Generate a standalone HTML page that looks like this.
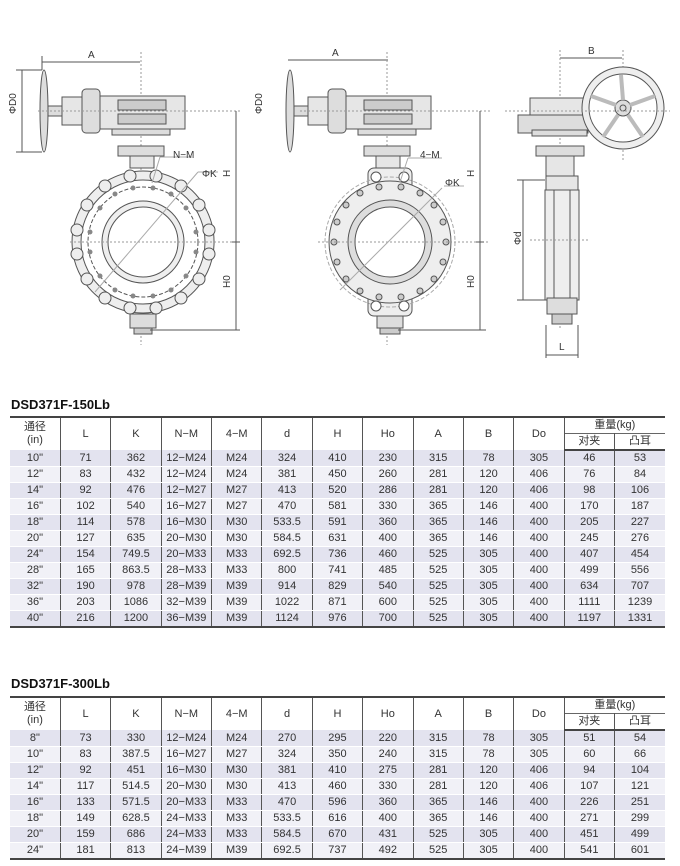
<!DOCTYPE html>
<html><head><meta charset="utf-8"><style>
body{margin:0;width:680px;height:866px;background:#fff;position:relative;overflow:hidden;font-family:"Liberation Sans","Noto Sans CJK SC",sans-serif;color:#333}
.t{position:absolute;font-weight:bold;font-size:13px;color:#111;left:11px}
table{position:absolute;left:10px;width:655px;border-collapse:collapse;table-layout:fixed;font-size:11px}
td{text-align:center;padding:0;border-left:1.5px solid #555;border-right:1.5px solid #555;height:15px;line-height:15px;border-bottom:1px solid #fff}
tr.h td{background:#fff;border-bottom:none;line-height:13px}
table{border-top:2px solid #444;border-bottom:2px solid #444}
tr.hb td{border-bottom:2px solid #444}
tbody tr.r:nth-child(odd) td{background:#e3e3ef}
tbody tr.r:nth-child(even) td{background:#f1f1f7}
td.f{border-left:none}td.l{border-right:none}
.sub{border-top:1px solid #666}
svg{position:absolute;left:0;top:0}
</style></head><body>
<svg width="680" height="380" viewBox="0 0 680 380" fill="none" stroke="#555" stroke-width="1" font-family="Liberation Sans" font-size="10">
<!-- Drawing 1 -->
<g>
<line x1="42" y1="62" x2="140" y2="62"/><text x="88" y="58" fill="#333" stroke="none">A</text>
<line x1="42" y1="56" x2="42" y2="70"/><line x1="141" y1="52" x2="141" y2="345" stroke-dasharray="2,2" stroke="#999"/>
<line x1="22" y1="70" x2="22" y2="152"/><text x="16" y="114" fill="#333" stroke="none" transform="rotate(-90 16 114)">ΦD0</text>
<line x1="16" y1="70" x2="42" y2="70"/><line x1="16" y1="152" x2="42" y2="152"/>
<ellipse cx="44" cy="111" rx="4" ry="41" fill="#ddd"/>
<rect x="48" y="106" width="14" height="10" fill="#ddd"/>
<rect x="62" y="97" width="20" height="28" fill="#e6e6e6"/>
<rect x="82" y="89" width="18" height="44" rx="4" fill="#ddd"/>
<rect x="100" y="96" width="85" height="33" fill="#e6e6e6"/>
<rect x="118" y="100" width="48" height="10" fill="#ccc"/><rect x="118" y="114" width="48" height="10" fill="#ccc"/>
<rect x="112" y="129" width="58" height="6" fill="#ddd"/>
<rect x="118" y="146" width="46" height="10" fill="#ddd"/>
<rect x="130" y="156" width="24" height="12" fill="#e6e6e6"/>
<line x1="38" y1="111" x2="240" y2="111" stroke-dasharray="2,2" stroke="#999"/>
<path d="M143 171 a71 71 0 1 0 0.1 0 Z" fill="#eee"/>
<g fill="#fff" stroke="#555">
<circle cx="143" cy="242" r="62"/>
</g>
<circle cx="143" cy="242" r="55" stroke-dasharray="4,2"/>
<circle cx="143" cy="242" r="41" fill="#eee"/><circle cx="143" cy="242" r="35" fill="#fff"/>
<g fill="#eee">
<circle cx="130" cy="176" r="6"/><circle cx="156" cy="176" r="6"/><circle cx="181" cy="186" r="6"/><circle cx="199" cy="205" r="6"/><circle cx="209" cy="230" r="6"/><circle cx="209" cy="254" r="6"/><circle cx="199" cy="279" r="6"/><circle cx="181" cy="298" r="6"/><circle cx="156" cy="308" r="6"/><circle cx="130" cy="308" r="6"/><circle cx="105" cy="298" r="6"/><circle cx="87" cy="279" r="6"/><circle cx="77" cy="254" r="6"/><circle cx="77" cy="230" r="6"/><circle cx="87" cy="205" r="6"/><circle cx="105" cy="186" r="6"/>
</g>
<g fill="#888" stroke="none">
<circle cx="153" cy="188" r="2.5"/><circle cx="133" cy="188" r="2.5"/><circle cx="171" cy="194" r="2.5"/><circle cx="115" cy="194" r="2.5"/><circle cx="186" cy="208" r="2.5"/><circle cx="100" cy="208" r="2.5"/><circle cx="196" cy="232" r="2.5"/><circle cx="90" cy="232" r="2.5"/><circle cx="196" cy="252" r="2.5"/><circle cx="90" cy="252" r="2.5"/><circle cx="186" cy="276" r="2.5"/><circle cx="100" cy="276" r="2.5"/><circle cx="171" cy="290" r="2.5"/><circle cx="115" cy="290" r="2.5"/><circle cx="153" cy="296" r="2.5"/><circle cx="133" cy="296" r="2.5"/>
</g>
<rect x="130" y="314" width="26" height="14" fill="#ddd"/><rect x="134" y="328" width="18" height="6" fill="#ccc"/>
<line x1="70" y1="242" x2="238" y2="242" stroke-dasharray="2,2" stroke="#999"/>
<line x1="95" y1="292" x2="198" y2="172" stroke="#aaa"/><line x1="198" y1="172" x2="218" y2="172" stroke="#aaa"/>
<text x="202" y="177" fill="#333" stroke="none">ΦK</text>
<line x1="160" y1="157" x2="192" y2="157" stroke="#aaa"/><line x1="160" y1="157" x2="152" y2="183" stroke="#aaa"/>
<text x="173" y="158" fill="#333" stroke="none">N−M</text>
<line x1="236" y1="111" x2="236" y2="330"/><line x1="232" y1="242" x2="240" y2="242"/>
<text x="230" y="177" fill="#333" stroke="none" transform="rotate(-90 230 177)">H</text>
<text x="230" y="288" fill="#333" stroke="none" transform="rotate(-90 230 288)">H0</text>
<line x1="150" y1="330" x2="240" y2="330"/>
</g>
<!-- Drawing 2 -->
<g>
<line x1="288" y1="60" x2="388" y2="60"/><text x="332" y="56" fill="#333" stroke="none">A</text>
<line x1="387" y1="52" x2="387" y2="345" stroke-dasharray="2,2" stroke="#999"/>
<text x="262" y="114" fill="#333" stroke="none" transform="rotate(-90 262 114)">ΦD0</text>
<ellipse cx="290" cy="111" rx="4" ry="41" fill="#ddd"/>
<rect x="294" y="106" width="14" height="10" fill="#ddd"/>
<rect x="308" y="97" width="20" height="28" fill="#e6e6e6"/>
<rect x="328" y="89" width="18" height="44" rx="4" fill="#ddd"/>
<rect x="346" y="96" width="85" height="33" fill="#e6e6e6"/>
<rect x="364" y="100" width="48" height="10" fill="#ccc"/><rect x="364" y="114" width="48" height="10" fill="#ccc"/>
<rect x="358" y="129" width="58" height="6" fill="#ddd"/>
<rect x="364" y="146" width="46" height="10" fill="#ddd"/>
<rect x="376" y="156" width="24" height="18" fill="#e6e6e6"/>
<line x1="300" y1="111" x2="490" y2="111" stroke-dasharray="2,2" stroke="#999"/>
<rect x="368" y="168" width="44" height="22" rx="6" fill="#eee"/>
<rect x="368" y="294" width="44" height="22" rx="6" fill="#eee"/>
<circle cx="390" cy="242" r="61" fill="#eee"/>
<circle cx="390" cy="242" r="65" stroke-dasharray="4,2" stroke="#aaa"/>
<circle cx="390" cy="242" r="42" fill="#ddd"/><circle cx="390" cy="242" r="35" fill="#fff"/>
<g fill="#fff"><circle cx="376" cy="177" r="5"/><circle cx="404" cy="177" r="5"/><circle cx="376" cy="306" r="5"/><circle cx="404" cy="306" r="5"/></g>
<g fill="#ccc">
<circle cx="379" cy="187" r="3"/><circle cx="401" cy="187" r="3"/><circle cx="420" cy="193" r="3"/><circle cx="360" cy="193" r="3"/><circle cx="434" cy="205" r="3"/><circle cx="346" cy="205" r="3"/><circle cx="443" cy="222" r="3"/><circle cx="337" cy="222" r="3"/><circle cx="446" cy="242" r="3"/><circle cx="334" cy="242" r="3"/><circle cx="443" cy="262" r="3"/><circle cx="337" cy="262" r="3"/><circle cx="434" cy="279" r="3"/><circle cx="346" cy="279" r="3"/><circle cx="420" cy="291" r="3"/><circle cx="360" cy="291" r="3"/><circle cx="401" cy="297" r="3"/><circle cx="379" cy="297" r="3"/>
</g>
<rect x="377" y="316" width="26" height="12" fill="#ddd"/><rect x="380" y="328" width="20" height="6" fill="#ccc"/>
<line x1="318" y1="242" x2="488" y2="242" stroke-dasharray="2,2" stroke="#999"/>
<line x1="340" y1="290" x2="440" y2="190" stroke="#aaa"/><line x1="440" y1="190" x2="442" y2="188" stroke="#aaa"/><line x1="444" y1="186" x2="464" y2="186" stroke="#aaa"/>
<text x="445" y="186" fill="#333" stroke="none">ΦK</text>
<line x1="408" y1="158" x2="442" y2="158" stroke="#aaa"/><line x1="408" y1="158" x2="400" y2="182" stroke="#aaa"/>
<text x="420" y="158" fill="#333" stroke="none">4−M</text>
<line x1="480" y1="111" x2="480" y2="330"/><line x1="476" y1="242" x2="484" y2="242"/>
<text x="474" y="177" fill="#333" stroke="none" transform="rotate(-90 474 177)">H</text>
<text x="474" y="288" fill="#333" stroke="none" transform="rotate(-90 474 288)">H0</text>
<line x1="398" y1="330" x2="486" y2="330"/>
</g>
<!-- Drawing 3 -->
<g>
<line x1="560" y1="58" x2="622" y2="58"/><text x="588" y="54" fill="#333" stroke="none">B</text>
<line x1="560" y1="50" x2="560" y2="330" stroke-dasharray="2,2" stroke="#999"/>
<line x1="623" y1="50" x2="623" y2="160" stroke-dasharray="2,2" stroke="#999"/>
<path d="M530 98 h56 v35 h-56 z" fill="#e6e6e6"/>
<rect x="518" y="115" width="70" height="18" fill="#ddd"/>
<rect x="532" y="130" width="55" height="6" fill="#ddd"/>
<rect x="536" y="146" width="48" height="10" fill="#ddd"/>
<rect x="546" y="156" width="28" height="20" fill="#e6e6e6"/>
<rect x="546" y="176" width="32" height="14" fill="#e6e6e6"/>
<rect x="545" y="190" width="34" height="110" fill="#eee"/>
<line x1="554" y1="190" x2="554" y2="300"/><line x1="570" y1="190" x2="570" y2="300"/>
<rect x="547" y="298" width="30" height="16" fill="#ddd"/><rect x="552" y="314" width="20" height="10" fill="#ccc"/>
<circle cx="623" cy="108" r="41" fill="#eee"/><circle cx="623" cy="108" r="34" fill="#fff"/>
<circle cx="623" cy="108" r="8" fill="#ddd"/><circle cx="623" cy="108" r="3"/>
<g stroke-width="4" stroke="#bbb"><line x1="623" y1="100" x2="621" y2="75"/><line x1="630" y1="105" x2="655" y2="96"/><line x1="628" y1="115" x2="643" y2="137"/><line x1="618" y1="115" x2="603" y2="137"/><line x1="616" y1="105" x2="591" y2="96"/></g>
<line x1="505" y1="111" x2="670" y2="111" stroke-dasharray="2,2" stroke="#999"/>
<line x1="523" y1="180" x2="523" y2="300"/><line x1="517" y1="180" x2="545" y2="180"/><line x1="517" y1="300" x2="545" y2="300"/>
<text x="521" y="245" fill="#333" stroke="none" transform="rotate(-90 521 245)">Φd</text>
<line x1="530" y1="240" x2="590" y2="240" stroke-dasharray="2,2" stroke="#999"/>
<line x1="546" y1="325" x2="546" y2="358"/><line x1="578" y1="325" x2="578" y2="358"/><line x1="546" y1="355" x2="578" y2="355"/>
<text x="559" y="350" fill="#333" stroke="none">L</text>
</g>
</svg>

<div class="t" style="top:397px">DSD371F-150Lb</div>
<table style="top:416px">
<tbody>
<tr class="h"><td class="f" rowspan="2" style="height:31px">通径<br>(in)</td><td rowspan="2">L</td><td rowspan="2">K</td><td rowspan="2">N−M</td><td rowspan="2">4−M</td><td rowspan="2">d</td><td rowspan="2">H</td><td rowspan="2">Ho</td><td rowspan="2">A</td><td rowspan="2">B</td><td rowspan="2">Do</td><td colspan="2" class="l" style="height:15px">重量(kg)</td></tr>
<tr class="h hb"><td class="sub" style="height:15px">对夹</td><td class="sub l">凸耳</td></tr>
<tr class="r"><td class="f">10"</td><td>71</td><td>362</td><td>12−M24</td><td>M24</td><td>324</td><td>410</td><td>230</td><td>315</td><td>78</td><td>305</td><td>46</td><td class="l">53</td></tr>
<tr class="r"><td class="f">12"</td><td>83</td><td>432</td><td>12−M24</td><td>M24</td><td>381</td><td>450</td><td>260</td><td>281</td><td>120</td><td>406</td><td>76</td><td class="l">84</td></tr>
<tr class="r"><td class="f">14"</td><td>92</td><td>476</td><td>12−M27</td><td>M27</td><td>413</td><td>520</td><td>286</td><td>281</td><td>120</td><td>406</td><td>98</td><td class="l">106</td></tr>
<tr class="r"><td class="f">16"</td><td>102</td><td>540</td><td>16−M27</td><td>M27</td><td>470</td><td>581</td><td>330</td><td>365</td><td>146</td><td>400</td><td>170</td><td class="l">187</td></tr>
<tr class="r"><td class="f">18"</td><td>114</td><td>578</td><td>16−M30</td><td>M30</td><td>533.5</td><td>591</td><td>360</td><td>365</td><td>146</td><td>400</td><td>205</td><td class="l">227</td></tr>
<tr class="r"><td class="f">20"</td><td>127</td><td>635</td><td>20−M30</td><td>M30</td><td>584.5</td><td>631</td><td>400</td><td>365</td><td>146</td><td>400</td><td>245</td><td class="l">276</td></tr>
<tr class="r"><td class="f">24"</td><td>154</td><td>749.5</td><td>20−M33</td><td>M33</td><td>692.5</td><td>736</td><td>460</td><td>525</td><td>305</td><td>400</td><td>407</td><td class="l">454</td></tr>
<tr class="r"><td class="f">28"</td><td>165</td><td>863.5</td><td>28−M33</td><td>M33</td><td>800</td><td>741</td><td>485</td><td>525</td><td>305</td><td>400</td><td>499</td><td class="l">556</td></tr>
<tr class="r"><td class="f">32"</td><td>190</td><td>978</td><td>28−M39</td><td>M39</td><td>914</td><td>829</td><td>540</td><td>525</td><td>305</td><td>400</td><td>634</td><td class="l">707</td></tr>
<tr class="r"><td class="f">36"</td><td>203</td><td>1086</td><td>32−M39</td><td>M39</td><td>1022</td><td>871</td><td>600</td><td>525</td><td>305</td><td>400</td><td>1111</td><td class="l">1239</td></tr>
<tr class="r"><td class="f">40"</td><td>216</td><td>1200</td><td>36−M39</td><td>M39</td><td>1124</td><td>976</td><td>700</td><td>525</td><td>305</td><td>400</td><td>1197</td><td class="l">1331</td></tr>
</tbody></table>

<div class="t" style="top:676px">DSD371F-300Lb</div>
<table style="top:696px">
<tbody>
<tr class="h"><td class="f" rowspan="2" style="height:31px">通径<br>(in)</td><td rowspan="2">L</td><td rowspan="2">K</td><td rowspan="2">N−M</td><td rowspan="2">4−M</td><td rowspan="2">d</td><td rowspan="2">H</td><td rowspan="2">Ho</td><td rowspan="2">A</td><td rowspan="2">B</td><td rowspan="2">Do</td><td colspan="2" class="l" style="height:15px">重量(kg)</td></tr>
<tr class="h hb"><td class="sub" style="height:15px">对夹</td><td class="sub l">凸耳</td></tr>
<tr class="r"><td class="f">8"</td><td>73</td><td>330</td><td>12−M24</td><td>M24</td><td>270</td><td>295</td><td>220</td><td>315</td><td>78</td><td>305</td><td>51</td><td class="l">54</td></tr>
<tr class="r"><td class="f">10"</td><td>83</td><td>387.5</td><td>16−M27</td><td>M27</td><td>324</td><td>350</td><td>240</td><td>315</td><td>78</td><td>305</td><td>60</td><td class="l">66</td></tr>
<tr class="r"><td class="f">12"</td><td>92</td><td>451</td><td>16−M30</td><td>M30</td><td>381</td><td>410</td><td>275</td><td>281</td><td>120</td><td>406</td><td>94</td><td class="l">104</td></tr>
<tr class="r"><td class="f">14"</td><td>117</td><td>514.5</td><td>20−M30</td><td>M30</td><td>413</td><td>460</td><td>330</td><td>281</td><td>120</td><td>406</td><td>107</td><td class="l">121</td></tr>
<tr class="r"><td class="f">16"</td><td>133</td><td>571.5</td><td>20−M33</td><td>M33</td><td>470</td><td>596</td><td>360</td><td>365</td><td>146</td><td>400</td><td>226</td><td class="l">251</td></tr>
<tr class="r"><td class="f">18"</td><td>149</td><td>628.5</td><td>24−M33</td><td>M33</td><td>533.5</td><td>616</td><td>400</td><td>365</td><td>146</td><td>400</td><td>271</td><td class="l">299</td></tr>
<tr class="r"><td class="f">20"</td><td>159</td><td>686</td><td>24−M33</td><td>M33</td><td>584.5</td><td>670</td><td>431</td><td>525</td><td>305</td><td>400</td><td>451</td><td class="l">499</td></tr>
<tr class="r"><td class="f">24"</td><td>181</td><td>813</td><td>24−M39</td><td>M39</td><td>692.5</td><td>737</td><td>492</td><td>525</td><td>305</td><td>400</td><td>541</td><td class="l">601</td></tr>
</tbody></table>
</body></html>
